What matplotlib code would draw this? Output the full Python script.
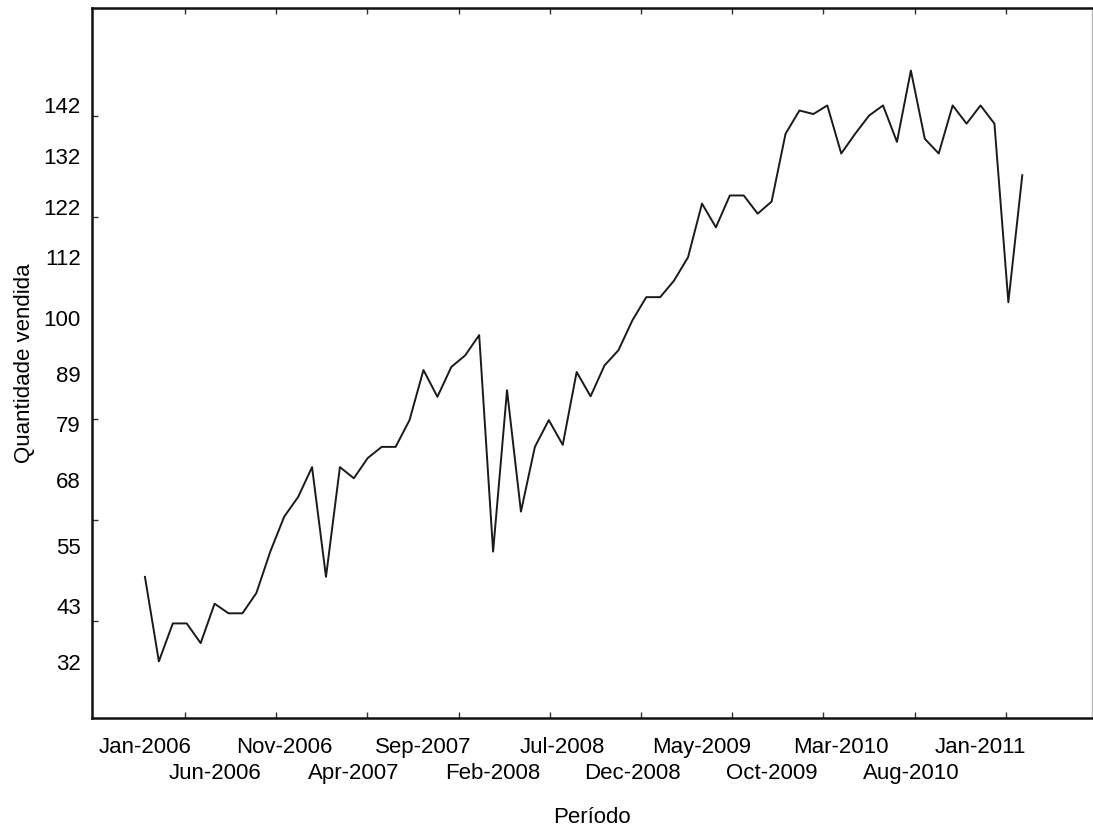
import matplotlib
matplotlib.use('Agg')
import matplotlib.pyplot as plt
import numpy as np

# monthly series, Jan-2006 .. Apr-2011
quantidade = [
    48.8, 32.1, 39.6, 39.6, 35.7, 43.5, 41.6, 41.6, 45.6, 53.8,
    60.7, 64.6, 70.5, 48.8, 70.5, 68.3, 72.3, 74.5, 74.5, 79.8,
    89.7, 84.4, 90.3, 92.6, 96.6, 53.8, 85.7, 61.7, 74.5, 79.8,
    74.9, 89.3, 84.5, 90.6, 93.6, 99.5, 104.1, 104.1, 107.4, 112.0,
    122.6, 117.9, 124.2, 124.2, 120.6, 123.0, 136.4, 141.0, 140.3, 142.0,
    132.5, 136.4, 140.0, 142.0, 134.8, 148.9, 135.4, 132.5, 142.0, 138.4,
    142.0, 138.4, 103.1, 128.2,
]
periodo_labels = ['Jan-2006', 'Jun-2006', 'Nov-2006', 'Apr-2007', 'Sep-2007',
                  'Feb-2008', 'Jul-2008', 'Dec-2008', 'May-2009', 'Oct-2009',
                  'Mar-2010', 'Aug-2010', 'Jan-2011']
label_step = 5
y_ticks = [32, 43, 55, 68, 79, 89, 100, 112, 122, 132, 142]

plt.rcParams['font.family'] = ['Liberation Sans', 'DejaVu Sans']
plt.rcParams['font.size'] = 16

fig = plt.figure(figsize=(10.93, 8.32), dpi=100)
ax = fig.add_axes([0.0842, 0.137, 0.9148, 0.853])

x = np.arange(len(quantidade))
ax.plot(x, quantidade, color='#1a1a1a', linewidth=1.4)

ax.set_xlim(-3.8, 68)
ax.set_ylim(20.9, 161.2)

# rotulos do eixo x em duas linhas alternadas
pos = np.arange(len(periodo_labels)) * label_step
ax.set_xticks(pos[::2])
ax.set_xticklabels(periodo_labels[::2])
ax.tick_params(axis='x', length=0, pad=14)
for p, lab in zip(pos[1::2], periodo_labels[1::2]):
    ax.annotate(lab, xy=(p, 0), xycoords=('data', 'axes fraction'),
                xytext=(0, -32.5), textcoords='offset points',
                ha='center', va='top', fontsize=16)

ax.set_yticks(y_ticks)
ax.set_yticklabels([str(v) for v in y_ticks])
ax.tick_params(axis='y', length=0, pad=8)

# marcas pequenas do grafico original
ax.set_xticks(np.arange(2.87, 68, 6.55), minor=True)
ax.set_yticks(np.arange(40, 141, 20), minor=True)
ax.tick_params(which='minor', direction='in', length=4, width=1,
               top=True, color='#333333')

ax.set_xlabel('Período', fontsize=16, labelpad=35)
ax.set_ylabel('Quantidade vendida', fontsize=16, labelpad=6)

for s in ['left', 'bottom', 'top']:
    ax.spines[s].set_linewidth(1.8)
    ax.spines[s].set_color('#111111')
ax.spines['right'].set_linewidth(1.0)
ax.spines['right'].set_color('#bbbbbb')

fig.savefig('out.png', dpi=100)
